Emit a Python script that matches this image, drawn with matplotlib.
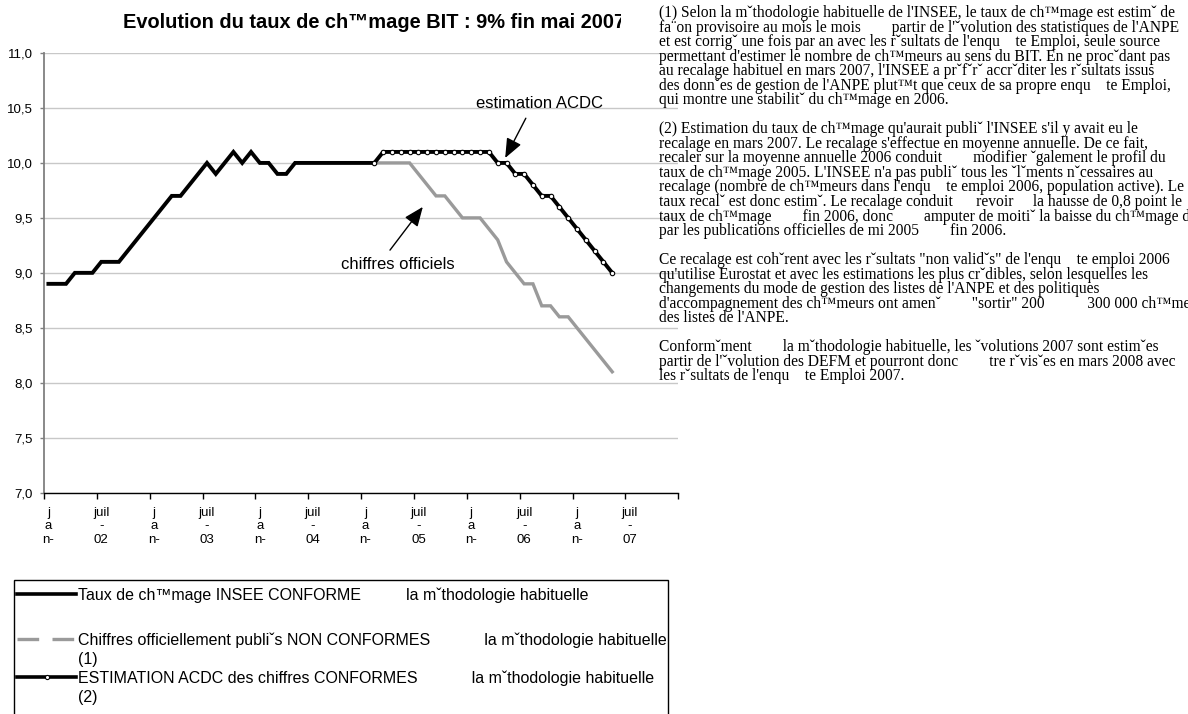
"""
Evolution du taux de chomage BIT (2002-2007) : serie INSEE, chiffres
officiels et estimation ACDC, avec les notes explicatives a droite.
"""

import matplotlib.pyplot as plt
import numpy as np
from matplotlib.lines import Line2D
from matplotlib.patches import Rectangle
from matplotlib.transforms import Bbox

plt.rcParams['font.family'] = ['Liberation Sans', 'DejaVu Sans']

# Donnees : taux mensuels en %, index 0 = janvier 2002
nb_mois = 72          # janvier 2002 -> decembre 2007
debut_divergence = 37  # fevrier 2005

taux_insee = [8.9, 8.9, 8.9, 9.0, 9.0, 9.0, 9.1, 9.1, 9.1, 9.2, 9.3, 9.4,
              9.5, 9.6, 9.7, 9.7, 9.8, 9.9, 10.0, 9.9, 10.0, 10.1, 10.0, 10.1,
              10.0, 10.0, 9.9, 9.9, 10.0, 10.0, 10.0, 10.0, 10.0, 10.0, 10.0, 10.0,
              10.0, 10.0]
chiffres_officiels = [10.0, 10.0, 10.0, 10.0, 10.0, 9.9, 9.8, 9.7, 9.7, 9.6, 9.5, 9.5,
                      9.5, 9.4, 9.3, 9.1, 9.0, 8.9, 8.9, 8.7, 8.7, 8.6, 8.6, 8.5,
                      8.4, 8.3, 8.2, 8.1]
estimation_acdc = [10.0, 10.1, 10.1, 10.1, 10.1, 10.1, 10.1, 10.1, 10.1, 10.1, 10.1, 10.1,
                   10.1, 10.1, 10.0, 10.0, 9.9, 9.9, 9.8, 9.7, 9.7, 9.6, 9.5, 9.4,
                   9.3, 9.2, 9.1, 9.0]

annees = ['02', '03', '04', '05', '06', '07']
etiquettes_x = []
for a in annees:
    etiquettes_x += ['j\na\nn-', 'juil\n-\n' + a]

titre = "Evolution du taux de ch\u2122mage BIT : 9% fin mai 2007"

legendes = [
    "Taux de ch\u2122mage INSEE CONFORME" + " " * 10 + "la m\u02c7thodologie habituelle",
    "Chiffres officiellement publi\u02c7s NON CONFORMES" + " " * 12
    + "la m\u02c7thodologie habituelle\n(1)",
    "ESTIMATION ACDC des chiffres CONFORMES" + " " * 12
    + "la m\u02c7thodologie habituelle\n(2)",
]

A = " " * 8   # a manquant
E = " " * 4   # e circonflexe manquant
notes = [
    "(1) Selon la m\u02c7thodologie habituelle de l'INSEE, le taux de ch\u2122mage est estim\u02c7 de",
    "fa\u00a8on provisoire au mois le mois" + A + "partir de l'\u02c7volution des statistiques de l'ANPE",
    "et est corrig\u02c7 une fois par an avec les r\u02c7sultats de l'enqu" + E + "te Emploi, seule source",
    "permettant d'estimer le nombre de ch\u2122meurs au sens du BIT. En ne proc\u02c7dant pas",
    "au recalage habituel en mars 2007, l'INSEE a pr\u02c7f\u02c7r\u02c7 accr\u02c7diter les r\u02c7sultats issus",
    "des donn\u02c7es de gestion de l'ANPE plut\u2122t que ceux de sa propre enqu" + E + "te Emploi,",
    "qui montre une stabilit\u02c7 du ch\u2122mage en 2006.",
    "",
    "(2) Estimation du taux de ch\u2122mage qu'aurait publi\u02c7 l'INSEE s'il y avait eu le",
    "recalage en mars 2007. Le recalage s'effectue en moyenne annuelle. De ce fait,",
    "recaler sur la moyenne annuelle 2006 conduit" + A + "modifier \u02c7galement le profil du",
    "taux de ch\u2122mage 2005. L'INSEE n'a pas publi\u02c7 tous les \u02c7l\u02c7ments n\u02c7cessaires au",
    "recalage (nombre de ch\u2122meurs dans l'enqu" + E + "te emploi 2006, population active). Le",
    "taux recal\u02c7 est donc estim\u02c7. Le recalage conduit" + " " * 6 + "revoir" + " " * 5
    + "la hausse de 0,8 point le",
    "taux de ch\u2122mage" + A + "fin 2006, donc" + A + "amputer de moiti\u02c7 la baisse du ch\u2122mage d\u02c7clar\u02c7e",
    "par les publications officielles de mi 2005" + A + "fin 2006.",
    "",
    "Ce recalage est coh\u02c7rent avec les r\u02c7sultats \"non valid\u02c7s\" de l'enqu" + E + "te emploi 2006",
    "qu'utilise Eurostat et avec les estimations les plus cr\u02c7dibles, selon lesquelles les",
    "changements du mode de gestion des listes de l'ANPE et des politiques",
    "d'accompagnement des ch\u2122meurs ont amen\u02c7" + A + "\"sortir\" 200" + " " * 11 + "300 000 ch\u2122meurs",
    "des listes de l'ANPE.",
    "",
    "Conform\u02c7ment" + A + "la m\u02c7thodologie habituelle, les \u02c7volutions 2007 sont estim\u02c7es",
    "partir de l'\u02c7volution des DEFM et pourront donc" + A + "tre r\u02c7vis\u02c7es en mars 2008 avec",
    "les r\u02c7sultats de l'enqu" + E + "te Emploi 2007.",
]

W, H = 1188, 714


def px(x, y):
    # pixels (origine en haut a gauche) -> fraction de figure
    return x / W, 1 - y / H


fig = plt.figure(figsize=(W / 100, H / 100), dpi=100)
ax = fig.add_axes([44 / W, 1 - 492.7 / H, (678.3 - 44) / W, (492.7 - 53) / H])

x_insee = np.arange(len(taux_insee))
x_off = np.arange(debut_divergence, debut_divergence + len(chiffres_officiels))
x_acdc = np.arange(debut_divergence, debut_divergence + len(estimation_acdc))

ax.plot(x_off, chiffres_officiels, color='#9a9a9a', lw=2.4, zorder=3,
        solid_joinstyle='miter')
ax.plot(x_insee, taux_insee, color='black', lw=2.8, zorder=4,
        solid_joinstyle='miter')
ax.plot(x_acdc, estimation_acdc, color='black', lw=2.8, zorder=5,
        marker='o', ms=3.2, mfc='white', mec='black', mew=0.8,
        solid_joinstyle='miter')

# Axes
ax.set_xlim(-0.5, nb_mois - 0.5)
ax.set_ylim(7, 11)
ax.set_yticks(np.arange(7, 11.01, 0.5))
ax.set_yticklabels([f'{v:.1f}'.replace('.', ',') for v in np.arange(7, 11.01, 0.5)])
ax.yaxis.grid(True, color='#c8c8c8', lw=1)
ax.set_axisbelow(True)

ax.set_xticks(np.arange(-0.5, nb_mois, 6))
ax.set_xticklabels([])
ax.set_xticks(np.arange(0, nb_mois, 6), minor=True)
ax.set_xticklabels(etiquettes_x, minor=True, linespacing=1.2)
ax.tick_params(axis='x', which='major', direction='out', length=4, width=1)
ax.tick_params(axis='x', which='minor', length=0, pad=10, labelsize=9.5)
ax.tick_params(axis='y', direction='out', length=3, width=1, pad=5, labelsize=9.5,
               color='#808080')

for s in ['top', 'right']:
    ax.spines[s].set_visible(False)
ax.spines['left'].set_color('#808080')
ax.spines['left'].set_linewidth(1.3)
ax.spines['bottom'].set_color('black')
ax.spines['bottom'].set_linewidth(1)

# Annotations
fleche = dict(arrowstyle='-|>,head_length=0.85,head_width=0.35', color='black',
              lw=1, shrinkA=4, shrinkB=0, mutation_scale=14)
ax.annotate('estimation ACDC', xy=(51.85, 10.045), xytext=(55.8, 10.545),
            ha='center', va='center', fontsize=12,
            arrowprops=dict(fleche, relpos=(0.42, 0.0)))
ax.annotate('chiffres officiels', xy=(42.5, 9.6), xytext=(39.7, 9.073),
            ha='center', va='center', fontsize=12,
            arrowprops=dict(fleche, relpos=(0.38, 1.0)))

# Titre (coupe a droite comme dans l'original)
t = fig.text(*px(123, 23), titre, fontsize=14.4, fontweight='bold',
             ha='left', va='center')
t.set_clip_box(Bbox.from_extents(0, 0, 621, H))
t.set_clip_on(True)

# Notes a droite
fig.text(*px(659, 5), '\n'.join(notes), family=['Liberation Serif', 'DejaVu Serif'],
         fontsize=11.2, ha='left', va='top', linespacing=0.878)

# Legende dessinee a la main (cadre coupe en bas)
fig.add_artist(Rectangle(px(14, 720), 654 / W, 140 / H, transform=fig.transFigure,
                         fill=False, ec='black', lw=1))
styles = [dict(color='black', lw=2.6),
          dict(color='#9a9a9a', lw=2.4, dashes=(6.5, 4)),
          dict(color='black', lw=2.6, marker='o', ms=3, mfc='white', mec='black',
               mew=0.8, markevery=[1])]
y_entrees = [594, 639, 677]
for style, y, lab in zip(styles, y_entrees, legendes):
    x0, yy = px(17, y)
    x1, _ = px(76, y)
    fig.add_artist(Line2D([x0, (x0 + x1) / 2, x1], [yy, yy, yy],
                          transform=fig.transFigure, **style))
    fig.text(*px(78, y - 6.5), lab, fontsize=11.5, ha='left', va='top',
             linespacing=1.35)

fig.savefig('out.png', dpi=100)
